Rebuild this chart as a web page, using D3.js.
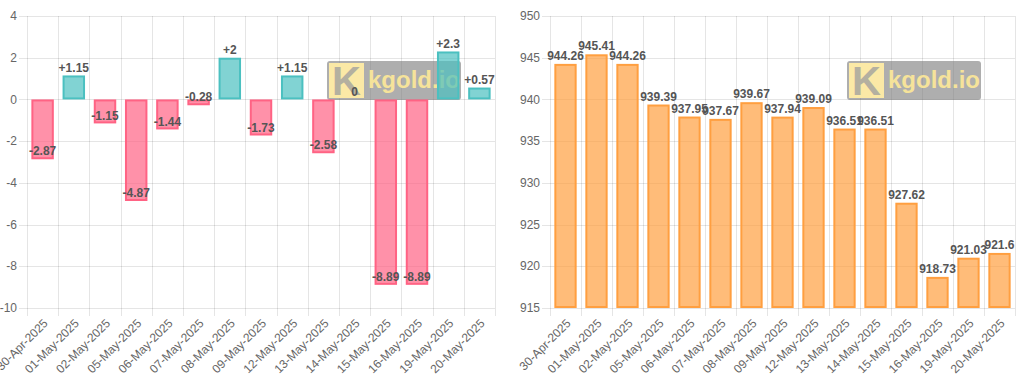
<!DOCTYPE html>
<html>
<head>
<meta charset="utf-8">
<script src="https://cdn.jsdelivr.net/npm/d3@7"></script>
<style>
  body { margin: 0; background: #fff; }
  svg { display: block; font-family: Arial, "Liberation Sans", Helvetica, sans-serif; }
</style>
</head>
<body>
<svg id="chart" width="1024" height="379"></svg>
<script>
var dates = ['30-Apr-2025', '01-May-2025', '02-May-2025', '05-May-2025', '06-May-2025',
             '07-May-2025', '08-May-2025', '09-May-2025', '12-May-2025', '13-May-2025',
             '14-May-2025', '15-May-2025', '16-May-2025', '19-May-2025', '20-May-2025'];
var changes = [-2.87, 1.15, -1.15, -4.87, -1.44, -0.28, 2, -1.73, 1.15, -2.58, 0, -8.89, -8.89, 2.3, 0.57];
var prices = [944.26, 945.41, 944.26, 939.39, 937.95, 937.67, 939.67, 937.94, 939.09, 936.51,
              936.51, 927.62, 918.73, 921.03, 921.6];
var changeTicks = [4, 2, 0, -2, -4, -6, -8, -10];
var priceTicks = [950, 945, 940, 935, 930, 925, 920, 915];

var svg = d3.select('#chart');

var drawWatermark = function(g, x, y){
    var w = g.append('g').attr('transform', 'translate(' + x + ',' + y + ')');
    w.append('rect')
        .attr('width', 134).attr('height', 39).attr('rx', 3)
        .attr('fill', 'rgb(120,120,120)').attr('fill-opacity', 0.6);
    w.append('rect')
        .attr('x', 2).attr('y', 2).attr('width', 35).attr('height', 35)
        .attr('fill', '#fbe9a6');
    w.append('text')
        .attr('x', 19.5).attr('y', 34)
        .attr('text-anchor', 'middle')
        .attr('font-size', 40).attr('font-weight', 'bold')
        .attr('fill', '#b4b0a0')
        .text('K');
    w.append('text')
        .attr('x', 41).attr('y', 27)
        .attr('font-size', 24).attr('font-weight', 'bold')
        .attr('fill', '#f6e39a')
        .text('kgold.io');
};

var drawChart = function(opts){
    var g = svg.append('g');
    var x = d3.scaleBand().domain(dates).range([opts.left, opts.right]);
    var y = d3.scaleLinear().domain(opts.domain).range([308, 16]);

    // horizontal grid (extends 8px left as tick marks)
    g.selectAll('line.hgrid').data(opts.ticks).enter().append('line')
        .attr('x1', opts.left - 8).attr('x2', opts.right)
        .attr('y1', function(d){ return Math.round(y(d)) + 0.5; })
        .attr('y2', function(d){ return Math.round(y(d)) + 0.5; })
        .attr('stroke', d3.rgb(0, 0, 0, 0.1));

    // vertical grid at category boundaries
    var bounds = dates.map(function(d){ return x(d); }).concat([opts.right]);
    g.selectAll('line.vgrid').data(bounds).enter().append('line')
        .attr('x1', function(d){ return Math.round(d) + 0.5; })
        .attr('x2', function(d){ return Math.round(d) + 0.5; })
        .attr('y1', 16).attr('y2', 316)
        .attr('stroke', d3.rgb(0, 0, 0, 0.1));

    // y tick labels
    g.selectAll('text.ytick').data(opts.ticks).enter().append('text')
        .attr('x', opts.left - 10)
        .attr('y', function(d){ return y(d); })
        .attr('dy', '0.35em')
        .attr('text-anchor', 'end')
        .attr('font-size', 12)
        .attr('fill', '#666')
        .text(function(d){ return d; });

    // x tick labels
    g.selectAll('text.xtick').data(dates).enter().append('text')
        .attr('transform', function(d){
            return 'translate(' + (x(d) + x.bandwidth() / 2 + 3) + ',321) rotate(-45)';
        })
        .attr('text-anchor', 'end')
        .attr('dy', '0.35em')
        .attr('font-size', 12)
        .attr('fill', '#666')
        .text(function(d){ return d; });

    drawWatermark(g, opts.right - 168, 61);

    var bw = x.bandwidth() * 0.72;
    var items = opts.values.map(function(v, i){
        return {date: dates[i], value: v};
    });
    var base = y(opts.base);

    g.selectAll('rect.bar').data(items).enter().append('rect')
        .attr('x', function(d){ return x(d.date) + (x.bandwidth() - bw) / 2 + 1; })
        .attr('y', function(d){ return Math.min(y(d.value), base) + 1; })
        .attr('width', bw - 2)
        .attr('height', function(d){ return Math.max(0, Math.abs(y(d.value) - base) - 2); })
        .attr('fill', opts.fill)
        .attr('stroke', opts.stroke)
        .attr('stroke-width', 2)
        .attr('display', function(d){ return d.value === opts.base ? 'none' : 'block'; });

    g.selectAll('text.val').data(items).enter().append('text')
        .attr('x', function(d){ return x(d.date) + x.bandwidth() / 2; })
        .attr('y', function(d){ return y(d.value) - 8; })
        .attr('dy', '0.35em')
        .attr('text-anchor', 'middle')
        .attr('font-size', 12)
        .attr('font-weight', 'bold')
        .attr('fill', '#555')
        .text(opts.format);
};

drawChart({
    left: 27, right: 495,
    domain: [-10, 4], ticks: changeTicks, base: 0,
    values: changes,
    fill: function(d){ return d.value >= 0 ? 'rgba(75,192,192,0.7)' : 'rgba(255,99,132,0.7)'; },
    stroke: function(d){ return d.value >= 0 ? 'rgb(75,192,192)' : 'rgb(255,99,132)'; },
    format: function(d){ return d.value > 0 ? '+' + d.value : '' + d.value; }
});

drawChart({
    left: 550, right: 1015,
    domain: [915, 950], ticks: priceTicks, base: 915,
    values: prices,
    fill: function(){ return 'rgba(255,159,64,0.7)'; },
    stroke: function(){ return 'rgb(255,159,64)'; },
    format: function(d){ return '' + d.value; }
});
</script>
</body>
</html>
